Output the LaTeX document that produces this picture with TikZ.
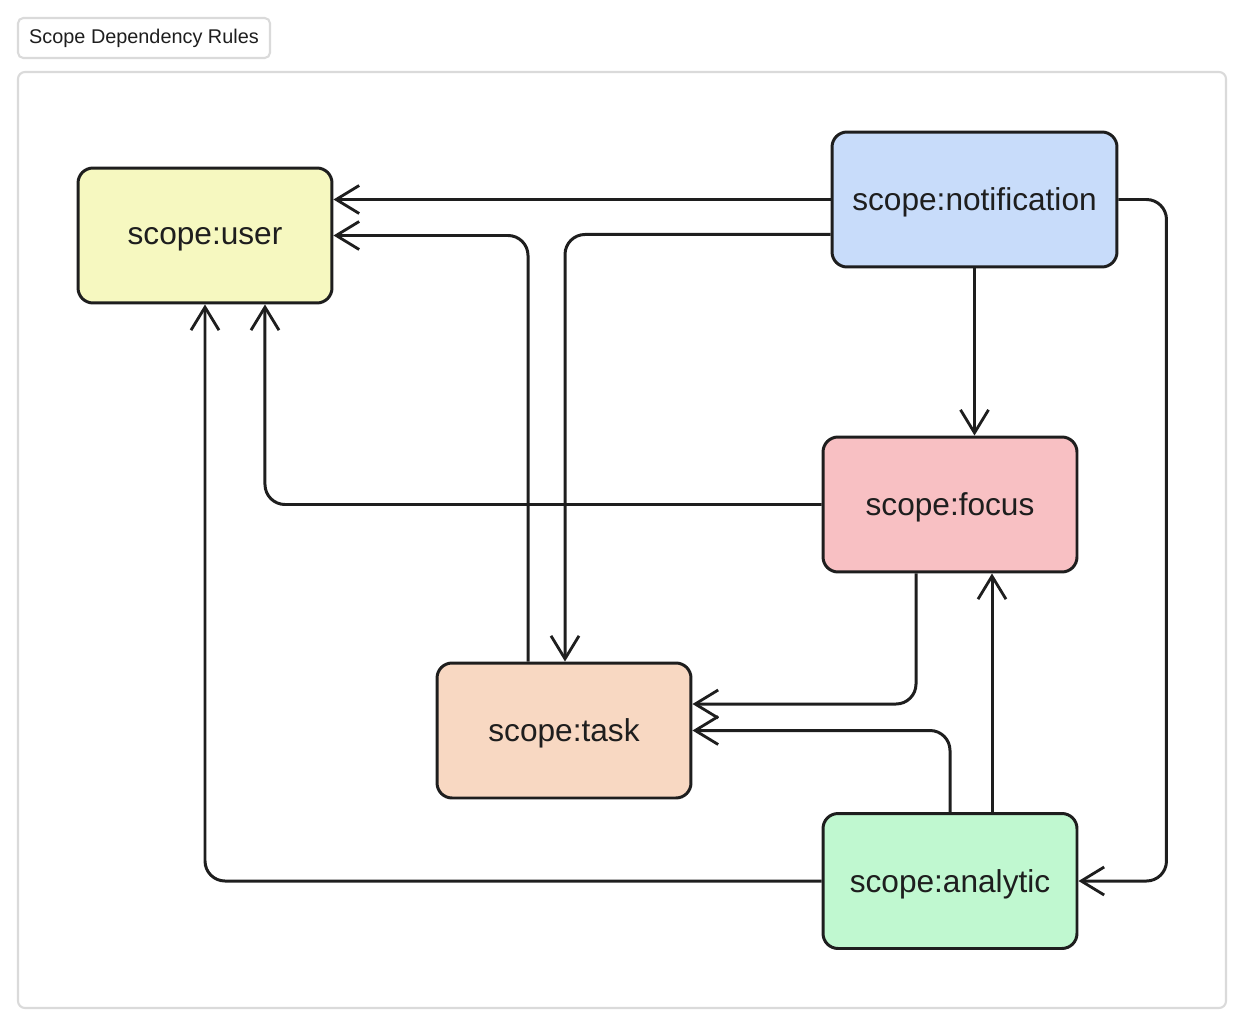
\documentclass[tikz,border=0pt]{standalone}
\usepackage{fontspec}
\setmainfont{Liberation Sans}
\usetikzlibrary{arrows.meta}

\definecolor{inkc}{HTML}{1E1E1E}
\definecolor{framec}{HTML}{DADADA}
\definecolor{userc}{HTML}{F6F8C0}
\definecolor{notifc}{HTML}{C8DCFA}
\definecolor{focusc}{HTML}{F8C0C3}
\definecolor{taskc}{HTML}{F8D8C2}
\definecolor{analyticc}{HTML}{C0F8D0}

\tikzset{
  scopebox/.style={draw=inkc, line width=1.7pt, rounded corners=0.3cm,
    minimum width=5.08cm, minimum height=2.7cm, text=inkc, text depth=0pt,
    font=\fontsize{18}{20}\selectfont},
  titlebox/.style={draw=framec, line width=1.2pt, rounded corners=3pt,
    minimum width=5.04cm, minimum height=0.8cm, text=inkc, font=\fontsize{11.3}{13}\selectfont},
  dep/.style={draw=inkc, line width=1.7pt, rounded corners=0.4cm,
    -{Straight Barb[length=0.46cm,width=0.56cm,line width=1.6pt]}}
}

\begin{document}
\begin{tikzpicture}[x=0.02cm, y=-0.02cm]
  \useasboundingbox (0,0) rectangle (1246,1030);

  % frame and title
  \draw[framec, line width=1.2pt, rounded corners=4pt] (18,72) rectangle (1226,1008);
  \node[titlebox] (title) at (144,38) {Scope Dependency Rules};

  % scopes
  \node[scopebox, fill=userc] (user) at (205,235.5) {scope:user};
  \node[scopebox, fill=notifc, minimum width=5.7cm] (notification) at (974.5,199.5) {scope:notification};
  \node[scopebox, fill=focusc] (focus) at (950,504.5) {scope:focus};
  \node[scopebox, fill=taskc] (task) at (564,730.5) {scope:task};
  \node[scopebox, fill=analyticc] (analytic) at (950,881) {scope:analytic};

  % dependencies
  \draw[dep] (notification.west) -- (notification.west -| user.east);
  \draw[dep] ([yshift=-0.7cm]notification.west) -| ([xshift=0.02cm]task.north);
  \draw[dep] ([xshift=-0.72cm]task.north) |- (user.east);
  \draw[dep] (focus.west) -| ([xshift=1.2cm]user.south);
  \draw[dep] (analytic.west) -| (user.south);
  \draw[dep] (notification.south) -- (notification.south |- focus.north);
  \draw[dep] (notification.east) -- ++(0.96cm,0) |- (analytic.east);
  \draw[dep] ([xshift=-0.68cm]focus.south) |- ([yshift=0.53cm]task.east);
  \draw[dep] (analytic.north) |- (task.east);
  \draw[dep] ([xshift=0.84cm]analytic.north) -- ([xshift=0.84cm]focus.south);
\end{tikzpicture}
\end{document}
